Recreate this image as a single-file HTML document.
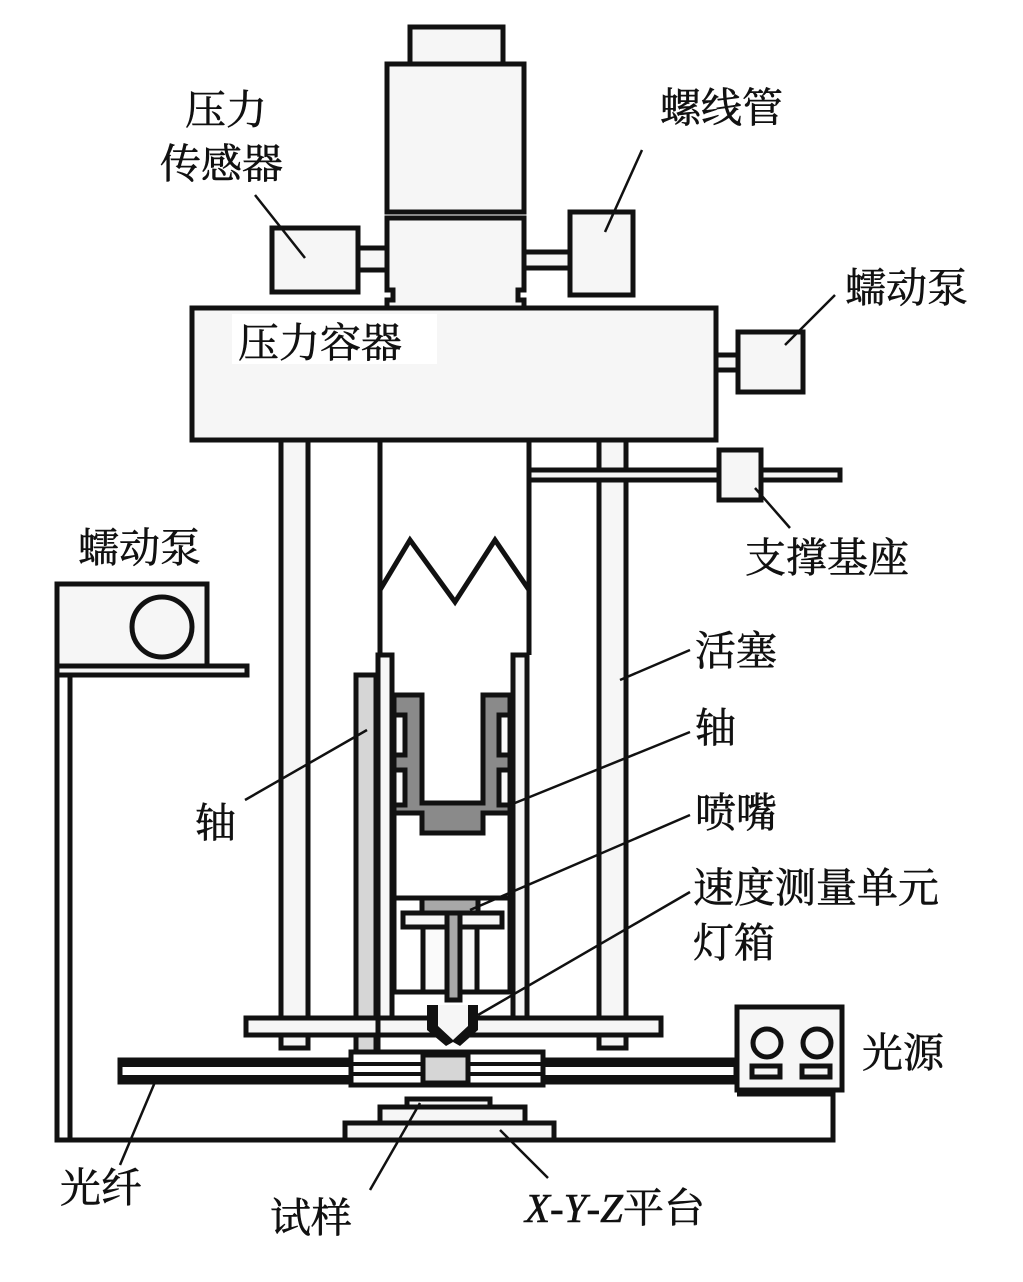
<!DOCTYPE html>
<html><head><meta charset="utf-8"><style>
html,body{margin:0;padding:0;background:#fff;}
svg{display:block}
text{font-family:"Liberation Serif","Noto Serif CJK SC",serif;font-size:41px;fill:#111;stroke:#111;stroke-width:0.6}
</style></head><body>
<svg width="1023" height="1282" viewBox="0 0 1023 1282" xmlns="http://www.w3.org/2000/svg">
<g stroke="#111" stroke-width="5" fill="#f6f6f6">
<rect x="410" y="27" width="93" height="37"/>
<rect x="387" y="64" width="137" height="148"/>
<path d="M387 218 H524 V290 H518 V300 H524 V308 H387 V300 H393 V290 H387 Z"/>
<rect x="272" y="228" width="86" height="64"/>
<rect x="358" y="248" width="29" height="22"/>
<rect x="570" y="212" width="63" height="83"/>
<rect x="524" y="252" width="46" height="16"/>
<rect x="192" y="308" width="524" height="132"/>
<rect x="716" y="355" width="22" height="15"/>
<rect x="738" y="332" width="65" height="60"/>
<rect x="281" y="440" width="27" height="608"/>
<rect x="599" y="440" width="27" height="608"/>
<rect x="529" y="470" width="311" height="10"/>
<rect x="719" y="450" width="42" height="50"/>
<path d="M380 440 V655 M529 440 V655" fill="none"/>
<polyline points="380,590 410,540 455,602 495,540 529,590" fill="none"/>
<rect x="356" y="675" width="20" height="385" fill="#d6d6d6"/>
<rect x="378" y="655" width="14" height="365"/>
<rect x="513" y="655" width="14" height="365"/>
<path d="M394 695 H422 V803 H483 V695 H510 V813 H483 V833 H422 V813 H394 Z" fill="#8a8a8a"/>
<rect x="394" y="715" width="11" height="40" fill="#fafafa"/>
<rect x="394" y="770" width="11" height="35" fill="#fafafa"/>
<rect x="499" y="715" width="11" height="40" fill="#fafafa"/>
<rect x="499" y="770" width="11" height="35" fill="#fafafa"/>
<path d="M394 813 V992 H510 V813 M394 898 H510" fill="none"/>
<rect x="423" y="927" width="54" height="65" fill="#fafafa"/>
<rect x="422" y="898" width="56" height="15" fill="#a8a8a8"/>
<rect x="403" y="913" width="99" height="14"/>
<rect x="447" y="913" width="13" height="87" fill="#a8a8a8"/>
<rect x="246" y="1018" width="415" height="17"/>
<rect x="120" y="1060" width="616" height="22" fill="#fff"/>
<path d="M120 1064 H736 M120 1078 H736" stroke-width="6" fill="none"/>
<rect x="351" y="1052" width="192" height="33" fill="#fff"/>
<path d="M351 1064 H543 M351 1074 H543" stroke-width="4" fill="none"/>
<rect x="423" y="1055" width="45" height="28" fill="#d6d6d6"/>
<path d="M378 1020 V1052" fill="none"/>
</g>
<path d="M427 1005 H478 V1030 L460 1046 L453 1042 L446 1046 L427 1030 Z" fill="#111"/>
<path d="M438 1005 H468 V1026 L453 1040 L438 1026 Z" fill="#f6f6f6"/>
<g stroke="#111" stroke-width="5" fill="#f6f6f6">
<rect x="737" y="1007" width="105" height="83"/>
<circle cx="767" cy="1043" r="14"/>
<circle cx="817" cy="1043" r="14"/>
<rect x="752" y="1066" width="28" height="11"/>
<rect x="802" y="1066" width="28" height="11"/>
<path d="M737 1094 H833 V1140 H57 V666 M70 1140 V676" fill="none"/>
<rect x="57" y="584" width="150" height="82"/>
<circle cx="162" cy="627" r="30"/>
<rect x="57" y="666" width="190" height="9"/>
<rect x="345" y="1123" width="209" height="17"/>
<rect x="380" y="1107" width="145" height="16"/>
<rect x="407" y="1099" width="83" height="8"/>
</g>
<g stroke="#111" stroke-width="2.5" fill="none">
<path d="M255 195 L305 258"/>
<path d="M642 150 L605 232"/>
<path d="M835 295 L785 345"/>
<path d="M755 488 L790 528"/>
<path d="M690 650 L620 680"/>
<path d="M690 732 L510 805"/>
<path d="M245 800 L367 730"/>
<path d="M690 815 L470 910"/>
<path d="M690 892 L478 1015"/>
<path d="M120 1165 L155 1082"/>
<path d="M370 1190 L420 1103"/>
<path d="M548 1178 L500 1130"/>
</g>
<text x="185" y="124">压力</text>
<text x="160" y="178">传感器</text>
<text x="660" y="122">螺线管</text>
<text x="845" y="302">蠕动泵</text>
<rect x="232" y="314" width="205" height="50" fill="#fff"/>
<text x="238" y="357">压力容器</text>
<text x="745" y="572">支撑基座</text>
<text x="78" y="562">蠕动泵</text>
<text x="695" y="665">活塞</text>
<text x="695" y="742">轴</text>
<text x="195" y="837">轴</text>
<text x="695" y="827">喷嘴</text>
<text x="693" y="902">速度测量单元</text>
<text x="693" y="957">灯箱</text>
<text x="862" y="1067">光源</text>
<text x="60" y="1202">光纤</text>
<text x="270" y="1232">试样</text>
<text x="525" y="1222"><tspan font-style="italic">X</tspan>-<tspan font-style="italic">Y</tspan>-<tspan font-style="italic">Z</tspan>平台</text>
</svg>
</body></html>
